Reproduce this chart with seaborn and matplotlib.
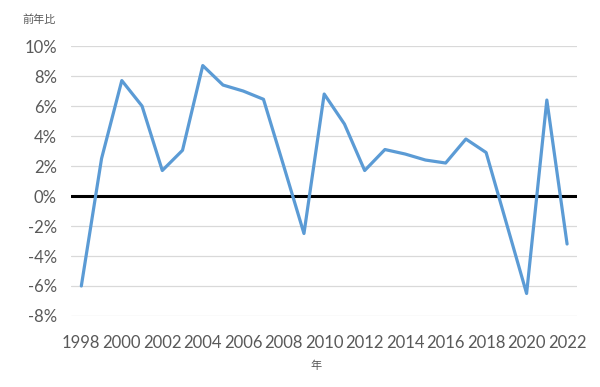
import matplotlib
matplotlib.use("Agg")
import matplotlib.pyplot as plt
import seaborn as sns
import pandas as pd

years = list(range(1998, 2023))
growth = [-6.0, 2.5, 7.7, 6.0, 1.7, 3.05, 8.7, 7.4, 7.0, 6.45, 2.0, -2.5,
          6.8, 4.8, 1.7, 3.1, 2.8, 2.4, 2.2, 3.8, 2.9, -1.8, -6.5, 6.4, -3.2]
y_ticks = [-8, -6, -4, -2, 0, 2, 4, 6, 8, 10]
x_ticks = list(range(1998, 2023, 2))

sns.set_theme(style="white")
plt.rcParams['font.family'] = ['Lato', 'Noto Sans CJK JP', 'DejaVu Sans']

df = pd.DataFrame({"year": years, "growth": growth})

fig = plt.figure(figsize=(6, 3.87), dpi=100)
ax = fig.add_axes([0.118, 0.1835, 0.844, 0.6975])

for t in y_ticks:
    if t != 0:
        ax.axhline(t, color="#D9D9D9", lw=0.9, zorder=0)
ax.axhline(0, color="black", lw=2.2, zorder=1)

sns.lineplot(data=df, x="year", y="growth", ax=ax, color="#5B9BD5", lw=2.3, zorder=3)

ax.set_xlim(1997.48, 2022.5)
ax.set_ylim(-8, 10)
ax.set_yticks(y_ticks)
ax.set_yticklabels([f"{t}%" for t in y_ticks], color="#595959", fontsize=12)
ax.set_xticks(x_ticks)
ax.set_xticklabels([str(x) for x in x_ticks], color="#595959", fontsize=12)
ax.tick_params(axis="both", length=0)
ax.tick_params(axis="x", pad=14)
ax.tick_params(axis="y", pad=10)
for s in ax.spines.values():
    s.set_visible(False)
ax.set_xlabel("")
ax.set_ylabel("")

fig.text(316/600, 1 - 366/387, "年", ha="center", va="center", fontsize=8,
         color="#595959", family=['Noto Sans CJK JP'])
fig.text(22/600, 1 - 20/387, "前年比", ha="left", va="center", fontsize=8,
         color="#595959", family=['Noto Sans CJK JP'])

fig.savefig("out.png", dpi=100)
